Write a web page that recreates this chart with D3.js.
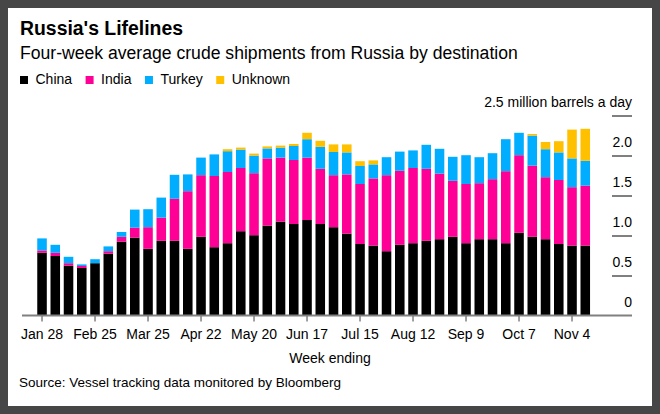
<!DOCTYPE html>
<html>
<head>
<meta charset="utf-8">
<script src="https://cdn.jsdelivr.net/npm/d3@7"></script>
<style>
  body { margin: 0; background: #464646; }
  text { font-family: "Liberation Sans", Arial, sans-serif; fill: #000; }
</style>
</head>
<body>
<div id="chart"></div>
<script>
// week ending labels (2022)
var weeks = ["Jan 28","Feb 4","Feb 11","Feb 18","Feb 25","Mar 4","Mar 11","Mar 18","Mar 25","Apr 1",
  "Apr 8","Apr 15","Apr 22","Apr 29","May 6","May 13","May 20","May 27","Jun 3","Jun 10",
  "Jun 17","Jun 24","Jul 1","Jul 8","Jul 15","Jul 22","Jul 29","Aug 5","Aug 12","Aug 19",
  "Aug 26","Sep 2","Sep 9","Sep 16","Sep 23","Sep 30","Oct 7","Oct 14","Oct 21","Oct 28",
  "Nov 4","Nov 11"];

var china = [0.79,0.75,0.63,0.60,0.66,0.78,0.93,0.98,0.84,0.94,0.94,0.84,0.99,0.86,0.91,1.06,1.01,1.13,1.18,1.15,
  1.20,1.15,1.11,1.03,0.90,0.88,0.81,0.89,0.91,0.94,0.96,0.99,0.91,0.96,0.96,0.91,1.04,0.99,0.96,0.90,0.88,0.88];
var india = [0.03,0.04,0.03,0.025,0,0.03,0.06,0.125,0.27,0.29,0.525,0.72,0.77,0.89,0.89,0.79,0.775,0.84,0.80,0.80,
  0.78,0.69,0.65,0.74,0.75,0.84,0.95,0.925,0.94,0.90,0.82,0.70,0.74,0.70,0.75,0.90,0.97,0.89,0.775,0.80,0.73,0.75];
var turkey = [0.15,0.10,0.08,0.02,0.05,0.06,0.06,0.225,0.225,0.25,0.30,0.21,0.22,0.27,0.26,0.23,0.22,0.125,0.125,0.175,
  0.23,0.275,0.29,0.275,0.225,0.175,0.225,0.24,0.22,0.30,0.31,0.30,0.36,0.325,0.325,0.40,0.28,0.375,0.35,0.345,0.36,0.31];
var unknown = [0,0,0,0,0,0,0,0,0,0,0,0,0,0,0.025,0.025,0.025,0.025,0.025,0.025,
  0.08,0.075,0.095,0.10,0.06,0.05,0,0,0,0,0,0,0,0,0,0,0,0.02,0.09,0.14,0.36,0.40];

var series = ["China", "India", "Turkey", "Unknown"];
var colors = ["#000000", "#ff0096", "#00adff", "#ffc000"];

var xTicks = ["Jan 28","Feb 25","Mar 25","Apr 22","May 20","Jun 17","Jul 15","Aug 12","Sep 9","Oct 7","Nov 4"];
var yTicks = [0, 0.5, 1.0, 1.5, 2.0, 2.5];

var W = 660, H = 414;

var svg = d3.select("#chart").append("svg")
    .attr("width", W)
    .attr("height", H);

// white card
svg.append("rect")
    .attr("x", 8).attr("y", 8)
    .attr("width", 644).attr("height", 398)
    .attr("fill", "#fff");

// titles
svg.append("text")
    .attr("x", 20).attr("y", 34.5)
    .style("font-size", "19.4px")
    .style("font-weight", "bold")
    .text("Russia's Lifelines");

svg.append("text")
    .attr("x", 20).attr("y", 59)
    .style("font-size", "17.6px")
    .text("Four-week average crude shipments from Russia by destination");

// legend
var lx = 20;
series.forEach(function(s, i) {
    svg.append("rect")
        .attr("x", lx).attr("y", 76)
        .attr("width", 8).attr("height", 8)
        .attr("fill", colors[i]);
    var t = svg.append("text")
        .attr("x", lx + 15.5).attr("y", 84)
        .style("font-size", "14px")
        .text(s);
    lx += 15.5 + t.node().getComputedTextLength() + 13.5;
});

// scales
var x = d3.scaleBand()
    .domain(weeks)
    .range([35.4, 591.9])
    .paddingInner(0.28)
    .paddingOuter(0.14);

var y = d3.scaleLinear()
    .domain([0, 2.5])
    .range([316, 116]);

var color = d3.scaleOrdinal().domain(series).range(colors);

var table = weeks.map(function(w, i) {
    return {week: w, China: china[i], India: india[i], Turkey: turkey[i], Unknown: unknown[i]};
});
var stacked = d3.stack().keys(series)(table);

svg.append("g")
  .selectAll("g")
  .data(stacked)
  .join("g")
    .attr("fill", function(d) { return color(d.key); })
  .selectAll("rect")
  .data(function(d) { return d; })
  .join("rect")
    .attr("x", function(d) { return x(d.data.week); })
    .attr("y", function(d) { return y(d[1]); })
    .attr("width", x.bandwidth())
    .attr("height", function(d) { return y(d[0]) - y(d[1]); });

// y axis: short lines at right with labels above
var yAxis = svg.append("g");
yAxis.selectAll("line")
  .data(yTicks.filter(function(d) { return d > 0; }))
  .join("line")
    .attr("x1", 612).attr("x2", 632)
    .attr("y1", function(d) { return y(d); })
    .attr("y2", function(d) { return y(d); })
    .attr("stroke", "#000")
    .attr("stroke-width", 1);
yAxis.selectAll("text")
  .data(yTicks)
  .join("text")
    .attr("x", 632)
    .attr("y", function(d) { return y(d) - 9; })
    .attr("text-anchor", "end")
    .style("font-size", "14px")
    .text(function(d) {
        if (d === 0) return "0";
        if (d === 2.5) return "2.5 million barrels a day";
        return d3.format(".1f")(d);
    });

// x axis
var xAxis = svg.append("g")
    .attr("transform", "translate(0," + 315.5 + ")")
    .call(d3.axisBottom(x).tickValues(xTicks).tickSize(6).tickPadding(8).tickSizeOuter(0));
xAxis.select(".domain").remove();
xAxis.append("line")
    .attr("x1", 22).attr("x2", 632)
    .attr("stroke", "#808080").attr("stroke-width", 2);
xAxis.selectAll(".tick line").attr("stroke", "#808080").attr("stroke-width", 1.5);
xAxis.selectAll(".tick text")
    .style("font-size", "14px")
    .style("font-family", "'Liberation Sans', Arial, sans-serif")
    .attr("fill", "#000");

svg.append("text")
    .attr("x", 330).attr("y", 363)
    .attr("text-anchor", "middle")
    .style("font-size", "14px")
    .text("Week ending");

svg.append("text")
    .attr("x", 19).attr("y", 387)
    .style("font-size", "13.5px")
    .text("Source: Vessel tracking data monitored by Bloomberg");
</script>
</body>
</html>
